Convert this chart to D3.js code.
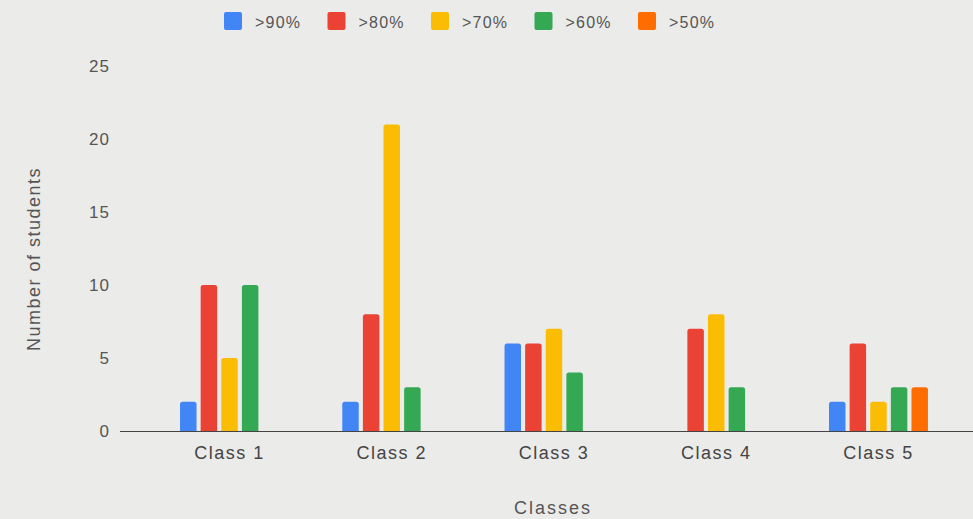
<!DOCTYPE html>
<html><head><meta charset="utf-8">
<script src="https://cdn.jsdelivr.net/npm/d3@7"></script>
<style>html,body{margin:0;padding:0;background:#ebebea;}svg{display:block;}</style>
</head><body>
<script>
const categories = ["Class 1","Class 2","Class 3","Class 4","Class 5"];
const seriesNames = [">90%",">80%",">70%",">60%",">50%"];
const seriesColors = ["#4285F4","#EA4335","#FBBC04","#34A853","#FF6D01"];
const v90 = [2,2,6,0,2];
const v80 = [10,8,6,7,6];
const v70 = [5,21,7,8,2];
const v60 = [10,3,4,3,3];
const v50 = [0,0,0,0,3];
const yTicks = [0,5,10,15,20,25];
const series = [v90,v80,v70,v60,v50];

const W=973,H=519;
const FONT="Liberation Sans, Arial, sans-serif";
const svg=d3.select("body").append("svg").attr("width",W).attr("height",H);
svg.append("rect").attr("width",W).attr("height",H).attr("fill","#ebebea");

const x0=d3.scaleBand().domain(categories).range([148.4,959.6]).paddingInner(0.39).paddingOuter(0.195);
const x1=d3.scaleBand().domain(seriesNames).range([0,x0.bandwidth()]).paddingInner(0.2);
const y=d3.scaleLinear().domain([0,25]).range([431,66]);

// y tick labels
const yAxis=d3.axisLeft(y).tickValues(yTicks).tickSize(0).tickPadding(0);
const ya=svg.append("g").attr("transform","translate(110,0)").call(yAxis);
ya.select(".domain").remove();
ya.selectAll("text").attr("font-family",FONT).attr("font-size",17).attr("letter-spacing",1).attr("fill","#555");

// bars
const r=2.5;
function topRounded(xp,yp,w,h){
  if(h<=0) return "";
  const rr=Math.min(r,h,w/2);
  return `M${xp},${yp+h}V${yp+rr}Q${xp},${yp} ${xp+rr},${yp}H${xp+w-rr}Q${xp+w},${yp} ${xp+w},${yp+rr}V${yp+h}Z`;
}
categories.forEach((c,i)=>{
  const g=svg.append("g").attr("transform",`translate(${x0(c)},0)`);
  seriesNames.forEach((s,j)=>{
    const v=series[j][i];
    if(v>0){
      g.append("path").attr("d",topRounded(x1(s),y(v),x1.bandwidth(),y(0)-y(v))).attr("fill",seriesColors[j]);
    }
  });
});

// baseline
svg.append("line").attr("x1",120).attr("x2",973).attr("y1",y(0)+0.5).attr("y2",y(0)+0.5).attr("stroke","#444").attr("stroke-width",1.2);

// x axis labels
const xAxis=d3.axisBottom(x0).tickSize(0).tickPadding(0);
const xa=svg.append("g").attr("transform",`translate(0,${y(0)+15})`).call(xAxis);
xa.select(".domain").remove();
xa.selectAll("text").attr("font-family",FONT).attr("font-size",18).attr("letter-spacing",1.5).attr("fill","#444").attr("dy","0.71em");

// axis titles
svg.append("text").attr("x",553).attr("y",514).attr("text-anchor","middle").attr("font-family",FONT).attr("font-size",18).attr("letter-spacing",2).attr("fill","#555").text("Classes");
svg.append("text").attr("transform","translate(40,259) rotate(-90)").attr("text-anchor","middle").attr("font-family",FONT).attr("font-size",18).attr("letter-spacing",1.5).attr("fill","#555").text("Number of students");

// legend
const leg=svg.append("g");
seriesNames.forEach((s,j)=>{
  const lx=224+j*103.5;
  leg.append("rect").attr("x",lx).attr("y",12).attr("width",18).attr("height",18).attr("rx",2).attr("fill",seriesColors[j]);
  leg.append("text").attr("x",lx+31).attr("y",28).attr("font-family",FONT).attr("font-size",16).attr("letter-spacing",1.2).attr("fill","#555").text(s);
});
</script>
</body></html>
